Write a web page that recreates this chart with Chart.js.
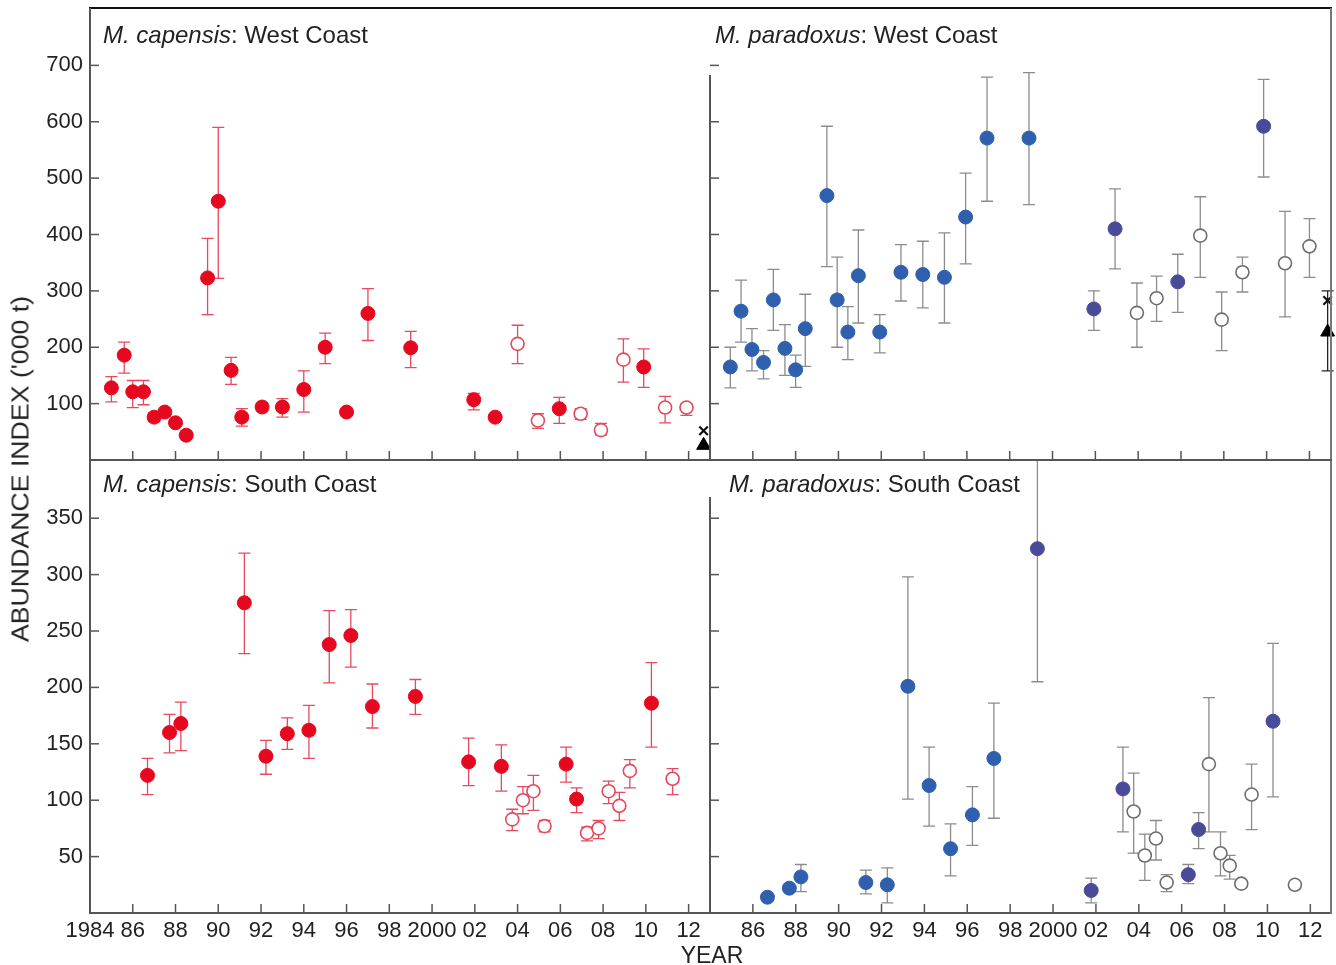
<!DOCTYPE html>
<html><head><meta charset="utf-8">
<script src="https://cdn.jsdelivr.net/npm/chart.js@4.4.1/dist/chart.umd.min.js"></script>
<style>
html,body{margin:0;padding:0;background:#fff;}
#wrap{position:relative;width:1336px;height:965px;overflow:hidden;font-family:'Liberation Sans',Arial,sans-serif;color:#222;}
canvas{position:absolute;left:0;top:0;}
.ln{position:absolute;}
.ytitle{position:absolute;left:21px;top:469px;transform:translate(-50%,-50%) rotate(-90deg) scaleX(1.16);font-size:23px;white-space:nowrap;color:#222;}
.xtitle{position:absolute;left:712px;top:955px;transform:translate(-50%,-50%);font-size:23px;color:#222;}
</style></head><body>
<div id="wrap">
<canvas id="tl" width="1336" height="965"></canvas>
<canvas id="tr" width="1336" height="965"></canvas>
<canvas id="bl" width="1336" height="965"></canvas>
<canvas id="br" width="1336" height="965"></canvas>
<div class="ln" style="left:89px;top:7px;width:1243px;height:2px;background:#111"></div>
<div class="ln" style="left:89px;top:8px;width:2px;height:906px;background:#555"></div>
<div class="ln" style="left:89px;top:912px;width:1243px;height:2px;background:#555"></div>
<div class="ln" style="left:1330px;top:8px;width:2px;height:906px;background:#777"></div>
<div class="ln" style="left:89px;top:459px;width:1243px;height:2px;background:#555"></div>
<div class="ln" style="left:709px;top:75px;width:2px;height:385px;background:#555"></div>
<div class="ln" style="left:709px;top:497px;width:2px;height:416px;background:#555"></div>
<div class="ytitle">ABUNDANCE INDEX ('000 t)</div>
<div class="xtitle">YEAR</div>
</div>
<script>
// ---------- tick labels ----------
const xTickYears = [1984,1986,1988,1990,1992,1994,1996,1998,2000,2002,2004,2006,2008,2010,2012];
const xTickLabelsLeft = ['1984','86','88','90','92','94','96','98','2000','02','04','06','08','10','12'];
const xTickLabelsRight = ['','86','88','90','92','94','96','98','2000','02','04','06','08','10','12'];
const topYTicks = [100,200,300,400,500,600,700];
const bottomYTicks = [50,100,150,200,250,300,350];

// ---------- M. capensis: West Coast ----------
const capWestFilledYears = [1985.0,1985.6,1986.0,1986.5,1987.0,1987.5,1988.0,1988.5,1989.5,1990.0,1990.6,1991.1,1992.05,1993.0,1994.0,1995.0,1996.0,1997.0,1999.0,2001.95,2002.95,2005.95,2009.9];
const capWestFilledValues = [128,186,121,121,76,85,66,44,323,459,159,76,94,94,125,200,85,260,199,107,76,91,165];
const capWestFilledLow = [103,154,93,98,68,78,null,null,258,322,134,60,88,76,85,171,null,212,164,89,null,65,129];
const capWestFilledHigh = [148,209,141,141,84,92,null,null,393,590,182,91,100,109,158,225,null,304,228,118,null,111,197];
const capWestOpenYears = [2004.0,2004.95,2006.95,2007.9,2008.95,2010.9,2011.9];
const capWestOpenValues = [206,70,82,53,178,93,93];
const capWestOpenLow = [171,56,72,44,138,66,79];
const capWestOpenHigh = [239,82,91,65,215,113,100];
const capWestMarkerYears = [2012.7];
const capWestCrossValues = [52];
const capWestTriangleValues = [26];

// ---------- M. paradoxus: West Coast ----------
const parWestBlueYears = [1984.95,1985.45,1985.96,1986.5,1986.96,1987.5,1988.0,1988.45,1989.46,1989.94,1990.44,1990.93,1991.93,1992.92,1993.94,1994.95,1995.94,1996.94,1998.9];
const parWestBlueValues = [165,264,196,173,284,198,160,233,469,284,227,327,227,333,329,324,431,571,571];
const parWestBlueLow = [128,209,158,144,230,150,129,166,343,200,178,243,190,282,270,243,348,459,453];
const parWestBlueHigh = [200,319,233,194,338,240,186,294,592,360,272,408,258,382,388,403,509,679,687];
const parWestPurpleYears = [2001.93,2002.92,2005.85,2009.86];
const parWestPurpleValues = [268,410,316,592];
const parWestPurpleLow = [230,339,262,502];
const parWestPurpleHigh = [300,481,365,675];
const parWestOpenYears = [2003.94,2004.86,2006.9,2007.9,2008.87,2010.86,2012.0];
const parWestOpenValues = [261,287,398,249,333,349,379];
const parWestOpenLow = [200,246,324,194,298,254,324];
const parWestOpenHigh = [314,326,467,298,360,441,428];
const parWestMarkerYears = [2012.85];
const parWestCrossValues = [283];
const parWestTriangleValues = [227];
const parWestTriangleLow = [158];
const parWestTriangleHigh = [300];

// ---------- M. capensis: South Coast ----------
const capSouthFilledYears = [1986.69,1987.72,1988.25,1991.22,1992.23,1993.23,1994.24,1995.19,1996.2,1997.21,1999.22,2001.71,2003.24,2006.27,2006.76,2010.26];
const capSouthFilledValues = [122,160,168,275,139,159,162,238,246,183,192,134,130,132,101,186];
const capSouthFilledLow = [105,142,144,230,123,145,137,204,218,164,176,113,108,116,89,147];
const capSouthFilledHigh = [137,176,187,319,153,173,184,268,269,203,207,155,149,147,111,222];
const capSouthOpenYears = [2003.75,2004.25,2004.74,2005.26,2007.25,2007.79,2008.26,2008.76,2009.25,2011.25];
const capSouthOpenValues = [83,100,108,77,71,75,108,95,126,119];
const capSouthOpenLow = [73,88,91,72,64,66,97,82,111,105];
const capSouthOpenHigh = [92,112,122,82,76,82,117,107,136,128];

// ---------- M. paradoxus: South Coast ----------
const parSouthBlueYears = [1986.68,1987.7,1988.24,1991.27,1992.27,1993.23,1994.22,1995.22,1996.24,1997.24];
const parSouthBlueValues = [14,22,32,27,25,201,113,57,87,137];
const parSouthBlueLow = [null,null,19,17,9,101,77,33,60,84];
const parSouthBlueHigh = [null,null,43,38,40,298,147,79,112,186];
const parSouthPurpleYears = [1999.27,2001.78,2003.26,2006.31,2006.79,2010.26];
const parSouthPurpleValues = [323,20,110,34,74,170];
const parSouthPurpleLow = [205,9,72,26,57,103];
const parSouthPurpleHigh = [420,31,147,43,89,239];
const parSouthOpenYears = [2003.76,2004.28,2004.8,2005.3,2007.27,2007.81,2008.24,2008.78,2009.26,2011.28];
const parSouthOpenValues = [90,51,66,27,132,53,42,26,105,25];
const parSouthOpenLow = [53,29,47,19,72,33,30,null,74,null];
const parSouthOpenHigh = [124,70,82,34,191,72,51,null,132,null];

// ---------- styling ----------
const FONT = "'Liberation Sans', Arial, sans-serif";
const RED = '#e5081e', RED_ERR = '#e64a5e', RED_OPEN = '#e2495a';
const BLUE = '#2f60ad', PURPLE = '#4a4b98', GREY_ERR = '#8c8c8c', GREY_OPEN = '#6e6e6e';

function pts(xs, ys) { return xs.map((x, i) => ({x: x, y: ys[i]})); }
function filled(xs, ys, lo, hi, color, errColor) {
  return {data: pts(xs, ys), errLow: lo, errHigh: hi, errColor: errColor,
    pointRadius: 7, pointBackgroundColor: color, pointBorderColor: color, pointBorderWidth: 1, clip: false};
}
function open(xs, ys, lo, hi, color, errColor) {
  return {data: pts(xs, ys), errLow: lo, errHigh: hi, errColor: errColor,
    pointRadius: 6.5, pointBackgroundColor: '#fff', pointBorderColor: color, pointBorderWidth: 1.6, clip: false};
}
function cross(xs, ys) {
  return {data: pts(xs, ys), pointStyle: 'crossRot', pointRadius: 6, pointBorderColor: '#111', pointBorderWidth: 2.2, clip: false};
}
function triangle(xs, ys, lo, hi) {
  return {data: pts(xs, ys), errLow: lo, errHigh: hi, errColor: '#222', pointStyle: 'triangle', pointRadius: 8,
    pointBackgroundColor: '#000', pointBorderColor: '#000', pointBorderWidth: 1, clip: false};
}

const errorBarPlugin = {
  id: 'errorBars',
  beforeDatasetsDraw(chart) {
    const ctx = chart.ctx, a = chart.chartArea, xs = chart.scales.x, ys = chart.scales.y;
    ctx.save();
    ctx.beginPath(); ctx.rect(a.left - 10, a.top, a.right - a.left + 20, a.bottom - a.top); ctx.clip();
    chart.data.datasets.forEach(ds => {
      if (!ds.errLow) return;
      ctx.strokeStyle = ds.errColor; ctx.lineWidth = 1.3;
      ds.data.forEach((p, i) => {
        const lo = ds.errLow[i], hi = ds.errHigh[i];
        if (lo == null || hi == null) return;
        const px = xs.getPixelForValue(p.x), pl = ys.getPixelForValue(lo), ph = ys.getPixelForValue(hi);
        ctx.beginPath();
        ctx.moveTo(px, pl); ctx.lineTo(px, ph);
        ctx.moveTo(px - 6, pl); ctx.lineTo(px + 6, pl);
        ctx.moveTo(px - 6, ph); ctx.lineTo(px + 6, ph);
        ctx.stroke();
      });
    });
    ctx.restore();
  }
};
const inTicksPlugin = {
  id: 'inTicks',
  beforeDatasetsDraw(chart, args, o) {
    const ctx = chart.ctx, a = chart.chartArea, xs = chart.scales.x, ys = chart.scales.y;
    ctx.save(); ctx.strokeStyle = '#555'; ctx.lineWidth = 1.5;
    o.xTicks.forEach(v => { const px = xs.getPixelForValue(v); ctx.beginPath(); ctx.moveTo(px, a.bottom); ctx.lineTo(px, a.bottom - 9); ctx.stroke(); });
    o.yTicks.forEach(v => { const py = ys.getPixelForValue(v); ctx.beginPath(); ctx.moveTo(a.left, py); ctx.lineTo(a.left + 9, py); ctx.stroke(); });
    ctx.restore();
  }
};
const titlePlugin = {
  id: 'panelTitle',
  afterDraw(chart, args, o) {
    const ctx = chart.ctx, a = chart.chartArea;
    const x = a.left + o.dx, y = a.top + o.dy;
    ctx.save(); ctx.fillStyle = '#222'; ctx.textBaseline = 'alphabetic'; ctx.textAlign = 'left';
    ctx.font = 'italic 24px ' + FONT; ctx.fillText(o.italic, x, y);
    const w = ctx.measureText(o.italic).width;
    ctx.font = '24px ' + FONT; ctx.fillText(o.rest, x + w, y);
    ctx.restore();
  }
};

function zeroPad(s) { s.paddingLeft = 0; s.paddingRight = 0; s.paddingTop = 0; s.paddingBottom = 0; }

function panel(id, o) {
  return new Chart(document.getElementById(id), {
    type: 'scatter',
    data: {datasets: o.datasets},
    options: {
      responsive: false, animation: false, events: [],
      layout: {padding: o.padding},
      plugins: {legend: {display: false}, tooltip: {enabled: false},
        inTicks: {xTicks: xTickYears.slice(1), yTicks: o.yTicks}, panelTitle: o.title},
      scales: {
        x: {type: 'linear', min: o.xMin, max: o.xMax,
          grid: {display: false, drawTicks: false}, border: {display: false},
          ticks: {display: !!o.xLabels, autoSkip: false, maxRotation: 0, minRotation: 0, padding: 5,
            font: {size: 22, family: FONT}, color: '#222',
            callback: v => { const i = xTickYears.indexOf(v); return (i < 0 || !o.xLabels) ? '' : o.xLabels[i]; }},
          afterBuildTicks: s => { s.ticks = xTickYears.map(v => ({value: v})); },
          afterFit: s => { s.height = o.xHeight; zeroPad(s); }},
        y: {type: 'linear', min: o.yMin, max: o.yMax,
          grid: {display: false, drawTicks: false}, border: {display: false},
          ticks: {display: o.yLabels, padding: 7, font: {size: 22, family: FONT}, color: '#222',
            callback: v => o.yTicks.includes(v) ? String(v) : ''},
          afterBuildTicks: s => { s.ticks = o.yTicks.map(v => ({value: v})); },
          afterFit: s => { s.width = o.yWidth; zeroPad(s); }}
      }
    },
    plugins: [errorBarPlugin, inTicksPlugin, titlePlugin]
  });
}

panel('tl', {
  padding: {left: 0, top: 8, right: 1336 - 710, bottom: 965 - 460}, yWidth: 90, xHeight: 0,
  xMin: 1984, xMax: 2013, yMin: 0, yMax: 800, yTicks: topYTicks, yLabels: true, xLabels: null,
  title: {italic: 'M. capensis', rest: ': West Coast', dx: 13, dy: 34},
  datasets: [
    open(capWestOpenYears, capWestOpenValues, capWestOpenLow, capWestOpenHigh, RED_OPEN, RED_ERR),
    filled(capWestFilledYears, capWestFilledValues, capWestFilledLow, capWestFilledHigh, RED, RED_ERR),
    cross(capWestMarkerYears, capWestCrossValues),
    triangle(capWestMarkerYears, capWestTriangleValues, null, null)
  ]
});
panel('tr', {
  padding: {left: 710, top: 8, right: 1336 - 1331, bottom: 965 - 460}, yWidth: 0, xHeight: 0,
  xMin: 1984, xMax: 2012.82, yMin: 0, yMax: 800, yTicks: topYTicks, yLabels: false, xLabels: null,
  title: {italic: 'M. paradoxus', rest: ': West Coast', dx: 5, dy: 34},
  datasets: [
    open(parWestOpenYears, parWestOpenValues, parWestOpenLow, parWestOpenHigh, GREY_OPEN, GREY_ERR),
    filled(parWestBlueYears, parWestBlueValues, parWestBlueLow, parWestBlueHigh, BLUE, GREY_ERR),
    filled(parWestPurpleYears, parWestPurpleValues, parWestPurpleLow, parWestPurpleHigh, PURPLE, GREY_ERR),
    triangle(parWestMarkerYears, parWestTriangleValues, parWestTriangleLow, parWestTriangleHigh),
    cross(parWestMarkerYears, parWestCrossValues)
  ]
});
panel('bl', {
  padding: {left: 0, top: 460, right: 1336 - 710, bottom: 0}, yWidth: 90, xHeight: 965 - 913,
  xMin: 1984, xMax: 2013, yMin: 0, yMax: 401.6, yTicks: bottomYTicks, yLabels: true, xLabels: xTickLabelsLeft,
  title: {italic: 'M. capensis', rest: ': South Coast', dx: 13, dy: 32},
  datasets: [
    open(capSouthOpenYears, capSouthOpenValues, capSouthOpenLow, capSouthOpenHigh, RED_OPEN, RED_ERR),
    filled(capSouthFilledYears, capSouthFilledValues, capSouthFilledLow, capSouthFilledHigh, RED, RED_ERR)
  ]
});
panel('br', {
  padding: {left: 710, top: 460, right: 1336 - 1331, bottom: 0}, yWidth: 0, xHeight: 965 - 913,
  xMin: 1984, xMax: 2012.82, yMin: 0, yMax: 401.6, yTicks: bottomYTicks, yLabels: false, xLabels: xTickLabelsRight,
  title: {italic: 'M. paradoxus', rest: ': South Coast', dx: 19, dy: 32},
  datasets: [
    open(parSouthOpenYears, parSouthOpenValues, parSouthOpenLow, parSouthOpenHigh, GREY_OPEN, GREY_ERR),
    filled(parSouthBlueYears, parSouthBlueValues, parSouthBlueLow, parSouthBlueHigh, BLUE, GREY_ERR),
    filled(parSouthPurpleYears, parSouthPurpleValues, parSouthPurpleLow, parSouthPurpleHigh, PURPLE, GREY_ERR)
  ]
});
</script>
</body></html>
